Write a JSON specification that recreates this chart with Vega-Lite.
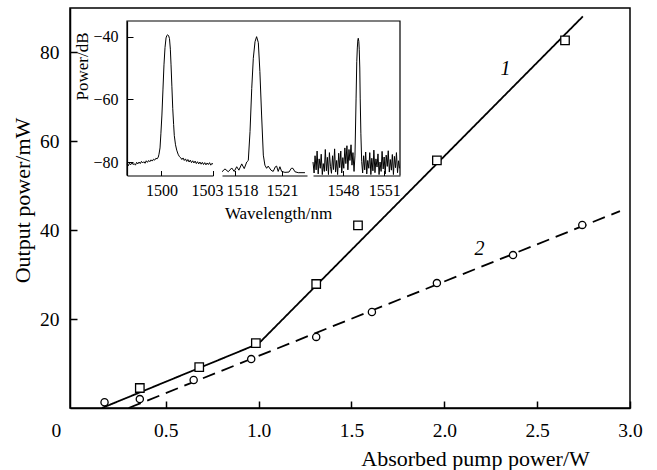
{
  "$schema": "https://vega.github.io/schema/vega-lite/v6.json",
  "autosize": {"type": "none"},
  "padding": {"left": 70, "top": 8, "right": 27, "bottom": 62},
  "width": 560,
  "height": 400,
  "config": {
    "font": "Liberation Serif",
    "view": {"stroke": "black", "strokeWidth": 1.5},
    "axis": {"domainColor": "black", "tickColor": "black", "labelColor": "black", "titleColor": "black", "grid": false, "labelFont": "Liberation Serif", "titleFont": "Liberation Serif", "titleFontWeight": "normal"}
  },
  "datasets": {
    "fit": [
      {"series": "1", "x": 0.156, "y": 0},
      {"series": "1", "x": 1.0, "y": 14.5},
      {"series": "1", "x": 2.746, "y": 88.1},
      {"series": "2", "x": 0.30, "y": 0},
      {"series": "2", "x": 2.946, "y": 44.3}
    ],
    "meas": [
      {"series": "1", "x": 0.36, "y": 4.5},
      {"series": "1", "x": 0.68, "y": 9.2},
      {"series": "1", "x": 0.985, "y": 14.6},
      {"series": "1", "x": 1.31, "y": 27.9},
      {"series": "1", "x": 1.535, "y": 41.1},
      {"series": "1", "x": 1.96, "y": 55.7},
      {"series": "1", "x": 2.65, "y": 82.7},
      {"series": "2", "x": 0.17, "y": 1.3},
      {"series": "2", "x": 0.36, "y": 2.0},
      {"series": "2", "x": 0.65, "y": 6.3},
      {"series": "2", "x": 0.96, "y": 11.0},
      {"series": "2", "x": 1.31, "y": 16.0},
      {"series": "2", "x": 1.61, "y": 21.6},
      {"series": "2", "x": 1.96, "y": 28.1},
      {"series": "2", "x": 2.37, "y": 34.4},
      {"series": "2", "x": 2.743, "y": 41.2}
    ],
    "labels": [
      {"label": "1", "x": 2.33, "y": 76.2},
      {"label": "2", "x": 2.19, "y": 35.7}
    ],
    "frame": [
      {"fx": 0, "fy": 0, "o": 0},
      {"fx": 0, "fy": 1, "o": 1},
      {"fx": 1, "fy": 1, "o": 2},
      {"fx": 1, "fy": 0, "o": 3}
    ],
    "s1": [
      {"w": 1498.00, "p": -80.6}, {"w": 1498.07, "p": -81.2}, {"w": 1498.14, "p": -80.4}, {"w": 1498.21, "p": -80.9},
      {"w": 1498.28, "p": -80.2}, {"w": 1498.35, "p": -80.8}, {"w": 1498.42, "p": -80.5}, {"w": 1498.49, "p": -81.0},
      {"w": 1498.56, "p": -80.1}, {"w": 1498.63, "p": -80.6}, {"w": 1498.70, "p": -80.0}, {"w": 1498.77, "p": -80.5},
      {"w": 1498.84, "p": -79.8}, {"w": 1498.91, "p": -80.3}, {"w": 1498.98, "p": -79.9}, {"w": 1499.05, "p": -80.4},
      {"w": 1499.12, "p": -79.6}, {"w": 1499.19, "p": -80.1}, {"w": 1499.26, "p": -79.5}, {"w": 1499.33, "p": -79.9},
      {"w": 1499.40, "p": -79.3}, {"w": 1499.47, "p": -79.7}, {"w": 1499.54, "p": -79.1}, {"w": 1499.61, "p": -79.4},
      {"w": 1499.68, "p": -78.8}, {"w": 1499.75, "p": -79.0}, {"w": 1499.82, "p": -78.4}, {"w": 1499.86, "p": -77.5},
      {"w": 1499.92, "p": -75.5}, {"w": 1499.97, "p": -71.0}, {"w": 1500.03, "p": -65.0}, {"w": 1500.09, "p": -57.0},
      {"w": 1500.15, "p": -49.0}, {"w": 1500.21, "p": -43.5}, {"w": 1500.27, "p": -40.4}, {"w": 1500.32, "p": -39.6},
      {"w": 1500.37, "p": -39.4}, {"w": 1500.42, "p": -39.7}, {"w": 1500.47, "p": -40.6}, {"w": 1500.52, "p": -44.0},
      {"w": 1500.56, "p": -49.0}, {"w": 1500.61, "p": -56.0}, {"w": 1500.66, "p": -63.0}, {"w": 1500.71, "p": -68.0},
      {"w": 1500.75, "p": -71.6}, {"w": 1500.82, "p": -74.5}, {"w": 1500.89, "p": -76.2}, {"w": 1500.97, "p": -77.5},
      {"w": 1501.05, "p": -78.3}, {"w": 1501.12, "p": -78.6}, {"w": 1501.19, "p": -79.2}, {"w": 1501.26, "p": -78.7},
      {"w": 1501.33, "p": -79.5}, {"w": 1501.40, "p": -79.0}, {"w": 1501.47, "p": -79.8}, {"w": 1501.54, "p": -79.2},
      {"w": 1501.61, "p": -80.0}, {"w": 1501.68, "p": -79.4}, {"w": 1501.75, "p": -80.2}, {"w": 1501.82, "p": -79.6},
      {"w": 1501.89, "p": -80.3}, {"w": 1501.96, "p": -79.7}, {"w": 1502.03, "p": -80.5}, {"w": 1502.10, "p": -79.9},
      {"w": 1502.17, "p": -80.6}, {"w": 1502.24, "p": -80.0}, {"w": 1502.31, "p": -80.7}, {"w": 1502.38, "p": -80.1},
      {"w": 1502.45, "p": -80.8}, {"w": 1502.52, "p": -80.2}, {"w": 1502.59, "p": -80.9}, {"w": 1502.66, "p": -80.3},
      {"w": 1502.73, "p": -80.8}, {"w": 1502.80, "p": -80.2}, {"w": 1502.87, "p": -81.0}, {"w": 1502.94, "p": -80.4},
      {"w": 1503.00, "p": -80.7}
    ],
    "s2": [
      {"w": 1517.17, "p": -83.1}, {"w": 1517.36, "p": -82.2}, {"w": 1517.57, "p": -83.1}, {"w": 1517.79, "p": -81.9},
      {"w": 1517.95, "p": -83.0}, {"w": 1518.11, "p": -81.5}, {"w": 1518.25, "p": -82.6}, {"w": 1518.43, "p": -80.6},
      {"w": 1518.59, "p": -82.1}, {"w": 1518.75, "p": -80.0}, {"w": 1518.85, "p": -79.5}, {"w": 1518.96, "p": -70.3},
      {"w": 1519.07, "p": -56.5}, {"w": 1519.17, "p": -46.9}, {"w": 1519.28, "p": -41.6}, {"w": 1519.38, "p": -40.0},
      {"w": 1519.49, "p": -41.9}, {"w": 1519.59, "p": -51.1}, {"w": 1519.70, "p": -65.0}, {"w": 1519.81, "p": -77.8},
      {"w": 1519.91, "p": -81.0}, {"w": 1520.02, "p": -82.0}, {"w": 1520.12, "p": -81.3}, {"w": 1520.30, "p": -82.6},
      {"w": 1520.44, "p": -83.0}, {"w": 1520.58, "p": -81.5}, {"w": 1520.66, "p": -81.3}, {"w": 1520.76, "p": -83.0},
      {"w": 1520.87, "p": -81.5}, {"w": 1520.98, "p": -83.0}, {"w": 1521.19, "p": -83.3}, {"w": 1521.45, "p": -83.2},
      {"w": 1521.60, "p": -82.0}, {"w": 1521.70, "p": -82.0}, {"w": 1521.83, "p": -83.1}, {"w": 1522.04, "p": -83.4},
      {"w": 1522.47, "p": -83.4}
    ],
    "s3": [
      {"w": 1545.80, "p": -80.0}, {"w": 1545.88, "p": -83.5}, {"w": 1545.95, "p": -78.0}, {"w": 1546.03, "p": -82.5},
      {"w": 1546.10, "p": -76.5}, {"w": 1546.18, "p": -83.8}, {"w": 1546.25, "p": -79.0}, {"w": 1546.33, "p": -82.0},
      {"w": 1546.40, "p": -77.5}, {"w": 1546.48, "p": -84.0}, {"w": 1546.55, "p": -80.5}, {"w": 1546.63, "p": -83.0},
      {"w": 1546.70, "p": -76.0}, {"w": 1546.78, "p": -82.8}, {"w": 1546.85, "p": -78.5}, {"w": 1546.93, "p": -84.0},
      {"w": 1547.00, "p": -77.0}, {"w": 1547.08, "p": -81.5}, {"w": 1547.15, "p": -83.6}, {"w": 1547.23, "p": -78.0},
      {"w": 1547.30, "p": -82.4}, {"w": 1547.38, "p": -75.8}, {"w": 1547.45, "p": -83.2}, {"w": 1547.53, "p": -79.5},
      {"w": 1547.60, "p": -84.0}, {"w": 1547.68, "p": -77.2}, {"w": 1547.75, "p": -81.8}, {"w": 1547.83, "p": -76.5},
      {"w": 1547.90, "p": -83.5}, {"w": 1547.98, "p": -78.6}, {"w": 1548.05, "p": -82.0}, {"w": 1548.13, "p": -75.5},
      {"w": 1548.20, "p": -80.5}, {"w": 1548.28, "p": -74.8}, {"w": 1548.35, "p": -82.5}, {"w": 1548.43, "p": -76.0},
      {"w": 1548.50, "p": -79.5}, {"w": 1548.58, "p": -74.5}, {"w": 1548.65, "p": -81.0}, {"w": 1548.72, "p": -77.0},
      {"w": 1548.80, "p": -83.0}, {"w": 1548.87, "p": -77.8}, {"w": 1548.95, "p": -59.6}, {"w": 1549.00, "p": -48.0},
      {"w": 1549.04, "p": -43.6}, {"w": 1549.08, "p": -41.0}, {"w": 1549.11, "p": -40.5}, {"w": 1549.15, "p": -41.5},
      {"w": 1549.18, "p": -44.0}, {"w": 1549.22, "p": -50.0}, {"w": 1549.25, "p": -59.6}, {"w": 1549.30, "p": -71.0},
      {"w": 1549.36, "p": -79.9}, {"w": 1549.43, "p": -83.5}, {"w": 1549.50, "p": -78.0}, {"w": 1549.58, "p": -82.5},
      {"w": 1549.65, "p": -76.8}, {"w": 1549.73, "p": -83.8}, {"w": 1549.80, "p": -79.5}, {"w": 1549.88, "p": -82.0},
      {"w": 1549.95, "p": -77.0}, {"w": 1550.03, "p": -84.0}, {"w": 1550.10, "p": -78.8}, {"w": 1550.18, "p": -82.8},
      {"w": 1550.25, "p": -76.2}, {"w": 1550.33, "p": -83.4}, {"w": 1550.40, "p": -79.0}, {"w": 1550.48, "p": -81.6},
      {"w": 1550.55, "p": -77.4}, {"w": 1550.63, "p": -84.0}, {"w": 1550.70, "p": -80.0}, {"w": 1550.78, "p": -83.0},
      {"w": 1550.85, "p": -76.6}, {"w": 1550.93, "p": -82.2}, {"w": 1551.00, "p": -78.4}, {"w": 1551.08, "p": -83.8},
      {"w": 1551.15, "p": -77.8}, {"w": 1551.23, "p": -81.4}, {"w": 1551.30, "p": -76.4}, {"w": 1551.38, "p": -83.2},
      {"w": 1551.45, "p": -79.2}, {"w": 1551.53, "p": -82.6}, {"w": 1551.60, "p": -77.6}, {"w": 1551.68, "p": -84.0},
      {"w": 1551.75, "p": -78.2}, {"w": 1551.83, "p": -81.8}, {"w": 1551.90, "p": -77.0}, {"w": 1551.98, "p": -83.4},
      {"w": 1552.05, "p": -79.6}, {"w": 1552.12, "p": -82.0}
    ]
  },
  "layer": [
    {
      "encoding": {
        "x": {
          "field": "x", "type": "quantitative",
          "scale": {"domain": [-0.016, 3.0], "nice": false, "zero": false},
          "axis": {
            "orient": "bottom",
            "values": [0, 0.5, 1, 1.5, 2, 2.5, 3],
            "labelExpr": "datum.value == 0 ? '0' : format(datum.value, '.1f')",
            "tickSize": -7, "tickWidth": 1.5, "domainWidth": 1.5,
            "tickOpacity": {"condition": {"test": "datum.value == 0", "value": 0}, "value": 1},
            "labelOffset": {"condition": {"test": "datum.value == 0", "value": -17}, "value": 0},
            "labelFontSize": 19.5, "labelPadding": 20, "labelFlush": false, "labelOverlap": false,
            "title": "Absorbed pump power/W", "titleFontSize": 22,
            "titleX": 405, "titleY": 50, "titleBaseline": "middle", "titleAlign": "center"
          }
        },
        "y": {
          "field": "y", "type": "quantitative",
          "scale": {"domain": [0, 90], "nice": false, "zero": false},
          "axis": {
            "orient": "left",
            "values": [20, 40, 60, 80],
            "tickSize": -7, "tickWidth": 1.5, "domainWidth": 1.5,
            "labelFontSize": 19.5, "labelPadding": 18, "labelOverlap": false,
            "title": "Output power/mW", "titleFontSize": 22,
            "titleX": -48, "titleY": 192, "titleBaseline": "middle", "titleAlign": "center"
          }
        }
      },
      "layer": [
        {
          "data": {"name": "fit"},
          "mark": {"type": "line", "color": "black", "strokeWidth": 1.8},
          "encoding": {
            "detail": {"field": "series"},
            "strokeDash": {"field": "series", "type": "nominal", "scale": {"domain": ["1", "2"], "range": [[1, 0], [13, 7]]}, "legend": null}
          }
        },
        {
          "data": {"name": "meas"},
          "mark": {"type": "point", "fill": "white", "stroke": "black", "strokeWidth": 1.3, "opacity": 1, "filled": true},
          "encoding": {
            "shape": {"field": "series", "type": "nominal", "scale": {"domain": ["1", "2"], "range": ["square", "circle"]}, "legend": null},
            "size": {"field": "series", "type": "ordinal", "scale": {"domain": ["1", "2"], "range": [72, 52]}, "legend": null}
          }
        },
        {
          "data": {"name": "labels"},
          "mark": {"type": "text", "fontStyle": "italic", "fontSize": 20, "font": "Liberation Serif", "color": "black"},
          "encoding": {"text": {"field": "label"}}
        }
      ]
    },
    {
      "data": {"name": "frame"},
      "mark": {"type": "line", "color": "black", "strokeWidth": 1.2},
      "encoding": {
        "x": {"field": "fx", "type": "quantitative", "scale": {"domain": [0, 1], "range": [57, 330], "nice": false, "zero": false}, "axis": null},
        "y": {"field": "fy", "type": "quantitative", "scale": {"domain": [0, 1], "range": [167.5, 13], "nice": false, "zero": false}, "axis": null},
        "order": {"field": "o"}
      }
    },
    {
      "data": {"name": "s1"},
      "mark": {"type": "line", "color": "black", "strokeWidth": 1},
      "encoding": {
        "x": {
          "field": "w", "type": "quantitative",
          "scale": {"domain": [1498, 1503], "range": [57, 143], "nice": false, "zero": false},
          "axis": {
            "orient": "bottom", "offset": -232.5, "values": [1500, 1503], "format": "d",
            "tickSize": -5, "domainWidth": 1.2, "labelFontSize": 16, "labelPadding": 12,
            "labelOffset": {"condition": {"test": "datum.value == 1503", "value": -6}, "value": 0},
            "labelFlush": false, "labelOverlap": false, "title": null
          }
        },
        "y": {
          "field": "p", "type": "quantitative",
          "scale": {"domain": [-84.3, -35], "range": [167.5, 13], "nice": false, "zero": false},
          "axis": {
            "orient": "left", "offset": -57, "values": [-40, -60, -80],
            "tickSize": -6, "domainWidth": 1.2, "labelFontSize": 16, "labelPadding": 15, "labelOverlap": false,
            "title": "Power/dB", "titleFontSize": 17, "titleX": -45, "titleY": 58, "titleBaseline": "middle", "titleAlign": "center"
          }
        }
      }
    },
    {
      "data": {"name": "s2"},
      "mark": {"type": "line", "color": "black", "strokeWidth": 1},
      "encoding": {
        "x": {
          "field": "w", "type": "quantitative",
          "scale": {"domain": [1517.17, 1522.6], "range": [152, 237], "nice": false, "zero": false},
          "axis": {
            "orient": "bottom", "offset": -232.5, "values": [1518, 1521], "format": "d",
            "tickSize": -5, "domainWidth": 1.2, "labelFontSize": 16, "labelPadding": 12,
            "labelOffset": {"condition": {"test": "datum.value == 1518", "value": 7}, "value": 0},
            "labelFlush": false, "labelOverlap": false,
            "title": "Wavelength/nm", "titleFontSize": 17, "titleX": 208, "titleY": 38, "titleBaseline": "middle", "titleAlign": "center"
          }
        },
        "y": {
          "field": "p", "type": "quantitative",
          "scale": {"domain": [-84.3, -35], "range": [167.5, 13], "nice": false, "zero": false},
          "axis": null
        }
      }
    },
    {
      "data": {"name": "s3"},
      "mark": {"type": "line", "color": "black", "strokeWidth": 1},
      "encoding": {
        "x": {
          "field": "w", "type": "quantitative",
          "scale": {"domain": [1545.8, 1552.16], "range": [243, 330], "nice": false, "zero": false},
          "axis": {
            "orient": "bottom", "offset": -232.5, "values": [1548, 1551], "format": "d",
            "tickSize": -5, "domainWidth": 1.2, "labelFontSize": 16, "labelPadding": 12,
            "labelFlush": false, "labelOverlap": false, "title": null
          }
        },
        "y": {
          "field": "p", "type": "quantitative",
          "scale": {"domain": [-84.3, -35], "range": [167.5, 13], "nice": false, "zero": false},
          "axis": null
        }
      }
    }
  ],
  "resolve": {"scale": {"x": "independent", "y": "independent"}}
}
